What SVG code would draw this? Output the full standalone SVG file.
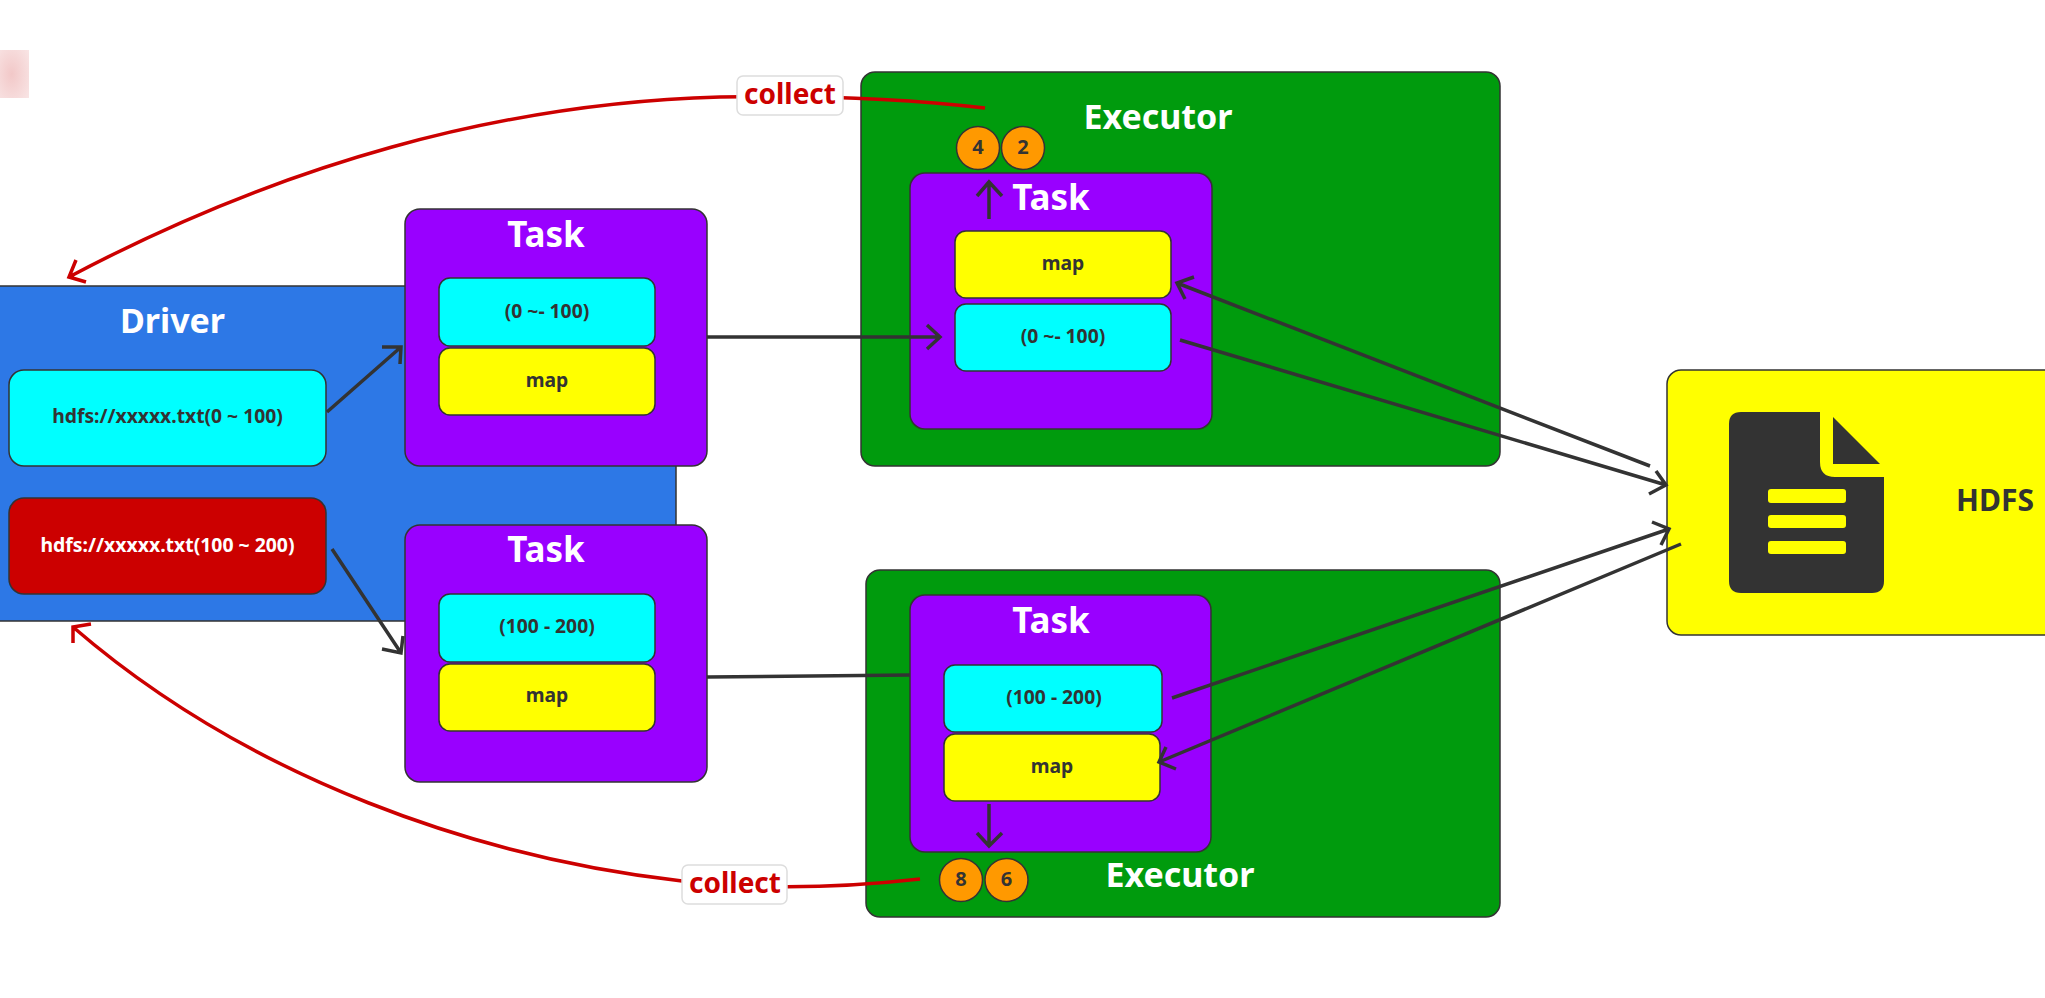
<svg xmlns="http://www.w3.org/2000/svg" width="2045" height="998" viewBox="0 0 2045 998">
<style>
text{font-family:"Noto Sans","Liberation Sans",sans-serif;font-weight:700;text-anchor:middle}
.box{stroke:#333;stroke-width:1.5}
.blue{fill:#2d78e6}.purple{fill:#9900ff}.green{fill:#009b0d}.yellow{fill:#ffff00}.cyan{fill:#00ffff}.red{fill:#cc0000}.orange{fill:#ff9900}
.h{font-size:34px;fill:#fff}.t{font-size:35px;fill:#fff}.s{font-size:19.300px;fill:#333}.d{font-size:20px;fill:#333}.w{font-size:19.400px;fill:#fff}
.c{font-size:28px;fill:#cc0000}
.l{fill:none;stroke:#333;stroke-width:3.500}.r{fill:none;stroke:#cc0000;stroke-width:3.500}
</style>
<defs>
<radialGradient id="pink" cx=".4" cy=".5" r=".8"><stop offset="0" stop-color="#f2c8c8"/><stop offset="1" stop-color="#f9e6e6"/></radialGradient>
</defs>
<rect width="2045" height="998" fill="#fff"/>
<rect id="blur" x="0" y="50" width="29" height="48" fill="url(#pink)"/>
<g id="driver"><rect class="box blue" x="-20" y="286" width="696" height="335"/><text class="h" x="172.500" y="333">Driver</text></g>
<g id="file1"><rect class="box cyan" x="9" y="370" width="317" height="96" rx="15"/><text class="s" x="167.500" y="423">hdfs://xxxxx.txt(0 ~ 100)</text></g>
<g id="file2"><rect class="box red" x="9" y="498" width="317" height="96" rx="15"/><text class="w" x="167.500" y="552">hdfs://xxxxx.txt(100 ~ 200)</text></g>
<g id="task1"><rect class="box purple" x="405" y="209" width="302" height="257" rx="15"/><text class="t" x="546" y="247">Task</text>
<rect class="box cyan" x="439" y="278" width="216" height="68" rx="11"/><text class="s" x="547" y="318">(0 ~- 100)</text>
<rect class="box yellow" x="439" y="348" width="216" height="67" rx="11"/><text class="s" x="547" y="387">map</text></g>
<g id="task2"><rect class="box purple" x="405" y="525" width="302" height="257" rx="15"/><text class="t" x="546" y="562">Task</text>
<rect class="box cyan" x="439" y="594" width="216" height="68" rx="11"/><text class="s" x="547" y="633">(100 - 200)</text>
<rect class="box yellow" x="439" y="664" width="216" height="67" rx="11"/><text class="s" x="547" y="702">map</text></g>
<g id="executor1"><rect class="box green" x="861" y="72" width="639" height="394" rx="14"/><text class="h" x="1158" y="129">Executor</text></g>
<g id="task3"><rect class="box purple" x="910" y="173" width="302" height="256" rx="15"/><text class="t" x="1051" y="210">Task</text>
<rect class="box yellow" x="955" y="231" width="216" height="67" rx="11"/><text class="s" x="1063" y="270">map</text>
<rect class="box cyan" x="955" y="304" width="216" height="67" rx="11"/><text class="s" x="1063" y="343">(0 ~- 100)</text></g>
<g id="circle4"><circle class="box orange" cx="978" cy="148" r="21.500"/><text class="d" x="978" y="154">4</text></g>
<g id="circle2"><circle class="box orange" cx="1023" cy="148" r="21.500"/><text class="d" x="1023" y="154">2</text></g>
<g id="executor2"><rect class="box green" x="866" y="570" width="634" height="347" rx="14"/><text class="h" x="1180" y="887">Executor</text></g>
<g id="task4"><rect class="box purple" x="910" y="595" width="301" height="257" rx="15"/><text class="t" x="1051" y="633">Task</text>
<rect class="box cyan" x="944" y="665" width="218" height="67" rx="11"/><text class="s" x="1054" y="704">(100 - 200)</text>
<rect class="box yellow" x="944" y="734" width="216" height="67" rx="11"/><text class="s" x="1052" y="773">map</text></g>
<g id="circle8"><circle class="box orange" cx="961" cy="880" r="21.500"/><text class="d" x="961" y="886">8</text></g>
<g id="circle6"><circle class="box orange" cx="1006.500" cy="880" r="21.500"/><text class="d" x="1006.500" y="886">6</text></g>
<g id="hdfs"><rect class="box yellow" x="1667" y="370" width="400" height="265" rx="14"/>
<path fill="#333" d="M1741 412H1820V462Q1820 477 1835 477H1884V581Q1884 593 1872 593H1741Q1729 593 1729 581V424Q1729 412 1741 412Z"/>
<path fill="#333" d="M1833 417L1880 464H1833Z"/>
<rect class="yellow" x="1768" y="489" width="78" height="14" rx="3"/><rect class="yellow" x="1768" y="515" width="78" height="13" rx="3"/><rect class="yellow" x="1768" y="541" width="78" height="13" rx="3"/>
<text x="1995" y="511" font-size="30" fill="#333">HDFS</text></g>
<g id="connectors">
<path class="l" d="M327 412L401 347M382 347L401 347L400 364"/>
<path class="l" d="M332 549L401 653M382 649L401 653L403 636"/>
<path class="l" d="M707 337H940M927 325L940 337L927 349"/>
<path class="l" d="M707 677L910 675"/>
<path class="l" d="M989 219V182M977 196L989 182L1002 196"/>
<path class="l" d="M989 804V846M977 833L989 846L1002 833"/>
<path class="l" d="M1650 466L1177 283M1194 277L1177 283L1185 299"/>
<path class="l" d="M1180 340L1666 485M1656 471L1666 485L1649 494"/>
<path class="l" d="M1172 698L1669 529M1652 522L1669 529L1661 545"/>
<path class="l" d="M1681 544L1159 762M1166 747L1159 762L1176 769"/>
<path class="r" d="M985 108C900 98 810 95 720 97C500 103 280 165 69 277M76 260L69 277L86 282"/>
<path class="r" d="M920 879C840 888 760 890 682 881C480 858 250 780 73 627M73 643L73 627L91 624"/>
</g>
<g id="collect1"><rect x="737" y="76" width="106" height="39" rx="6" fill="#fff" stroke="#ddd" stroke-width="1.500"/><text class="c" x="790" y="104">collect</text></g>
<g id="collect2"><rect x="682" y="865" width="105" height="39" rx="6" fill="#fff" stroke="#ddd" stroke-width="1.500"/><text class="c" x="735" y="893">collect</text></g>
</svg>
